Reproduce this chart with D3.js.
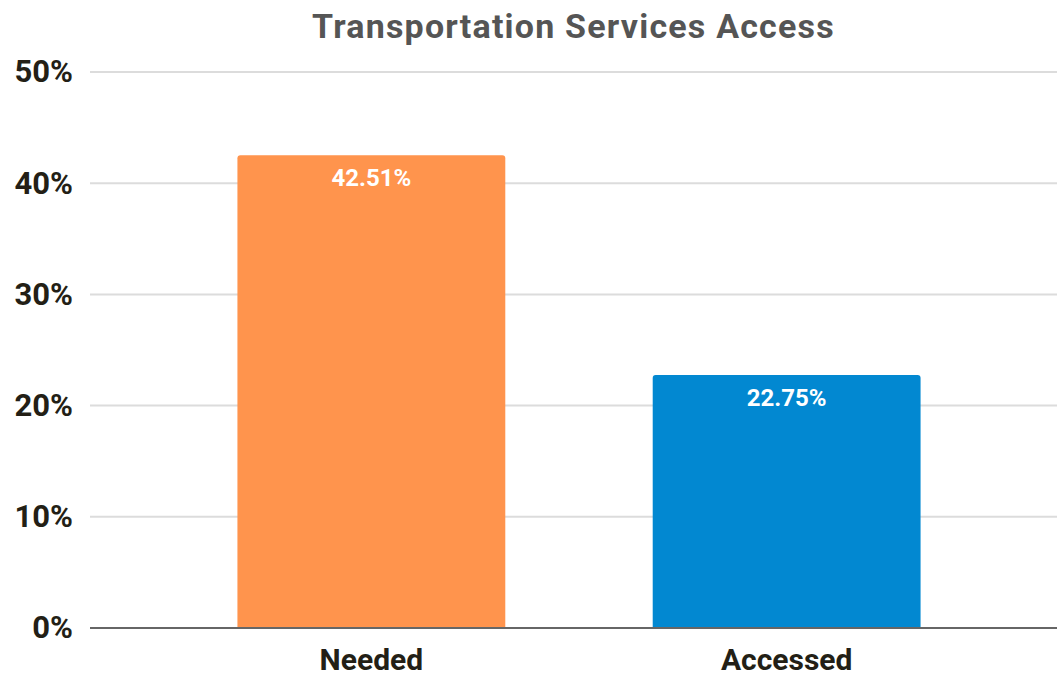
<!DOCTYPE html>
<html>
<head>
<meta charset="utf-8">
<script src="https://cdn.jsdelivr.net/npm/d3@7"></script>
<style>
  html, body { margin: 0; padding: 0; background: #fff; }
  svg { display: block; }
  text { font-family: Roboto, "Noto Sans", sans-serif; font-weight: 700; }
</style>
</head>
<body>
<svg id="chart" width="1057" height="677"></svg>
<script>
// Share of respondents who needed vs. accessed transportation services
const categories = ["Needed", "Accessed"];
const values = [42.51, 22.75];
const barColors = ["#FF944D", "#0288D1"];
const yTicks = [0, 10, 20, 30, 40, 50];
const chartTitle = "Transportation Services Access";

const width = 1057, height = 677;
const margin = { top: 72, right: -11, bottom: 49, left: 90 };

const svg = d3.select("#chart");

const x = d3.scaleBand()
  .domain(categories)
  .range([margin.left, width - margin.right])
  .padding(0.355);

const y = d3.scaleLinear()
  .domain([0, 50])
  .range([height - margin.bottom, margin.top]);

// horizontal gridlines
svg.append("g")
  .selectAll("line")
  .data(yTicks.filter(d => d > 0))
  .join("line")
  .attr("x1", margin.left)
  .attr("x2", width)
  .attr("y1", d => y(d))
  .attr("y2", d => y(d))
  .attr("stroke", "#dcdcdc")
  .attr("stroke-width", 2);

// y axis labels
const yAxis = d3.axisLeft(y)
  .tickValues(yTicks)
  .tickFormat(d => d + "%")
  .tickSize(0)
  .tickPadding(0);

svg.append("g")
  .attr("transform", `translate(${margin.left - 17},0)`)
  .call(yAxis)
  .call(g => g.select(".domain").remove())
  .call(g => g.selectAll("text")
    .attr("fill", "#231f16")
    .attr("font-size", 31)
    .attr("dy", "0.32em"));

// bars with slightly rounded top corners
function barPath(x0, y0, w, h, r) {
  return `M${x0},${y0 + h}V${y0 + r}Q${x0},${y0} ${x0 + r},${y0}` +
         `H${x0 + w - r}Q${x0 + w},${y0} ${x0 + w},${y0 + r}V${y0 + h}Z`;
}

svg.append("g")
  .selectAll("path")
  .data(categories)
  .join("path")
  .attr("d", (c, i) => barPath(x(c), y(values[i]), x.bandwidth(), y(0) - y(values[i]), 3))
  .attr("fill", (c, i) => barColors[i]);

// value labels inside bars
svg.append("g")
  .selectAll("text")
  .data(categories)
  .join("text")
  .attr("x", c => x(c) + x.bandwidth() / 2)
  .attr("y", (c, i) => y(values[i]) + 31)
  .attr("text-anchor", "middle")
  .attr("fill", "#fff")
  .attr("font-size", 24)
  .text((c, i) => values[i].toFixed(2) + "%");

// baseline
svg.append("line")
  .attr("x1", margin.left)
  .attr("x2", width)
  .attr("y1", y(0))
  .attr("y2", y(0))
  .attr("stroke", "#666")
  .attr("stroke-width", 2);

// x axis labels
const xAxis = d3.axisBottom(x).tickSize(0).tickPadding(0);
svg.append("g")
  .attr("transform", `translate(0,${y(0)})`)
  .call(xAxis)
  .call(g => g.select(".domain").remove())
  .call(g => g.selectAll("text")
    .attr("fill", "#231f16")
    .attr("font-size", 30)
    .attr("dy", 0)
    .attr("y", 42));

// title
svg.append("text")
  .attr("x", (margin.left + width) / 2)
  .attr("y", 38)
  .attr("text-anchor", "middle")
  .attr("fill", "#555")
  .attr("font-size", 34)
  .attr("letter-spacing", 1.2)
  .text(chartTitle);
</script>
</body>
</html>
